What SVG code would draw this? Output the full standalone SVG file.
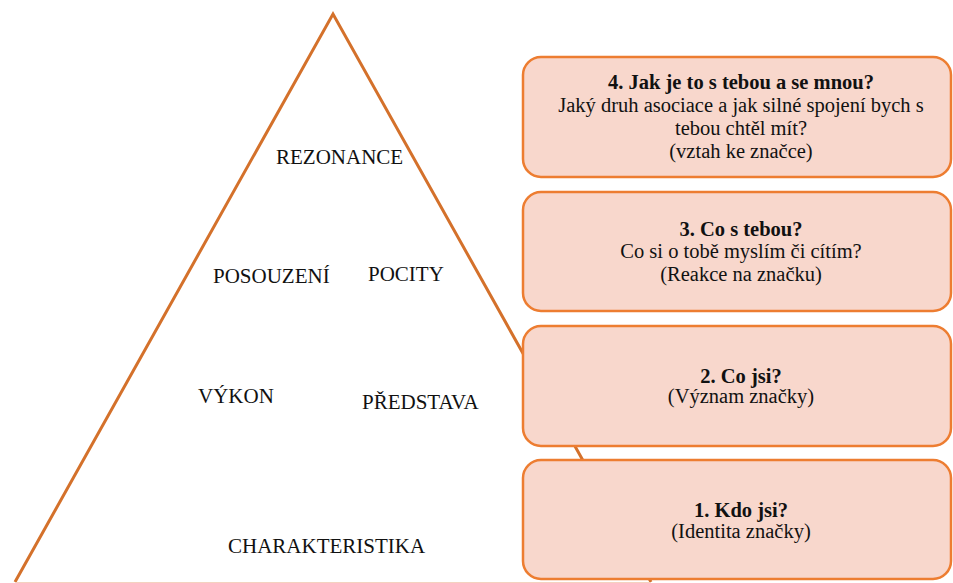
<svg xmlns="http://www.w3.org/2000/svg" width="953" height="583" viewBox="0 0 953 583">
<style>
  .tri { fill: none; stroke: #d4712b; stroke-width: 3; stroke-linejoin: miter; }
  .box { fill: #f8d7cc; stroke: #ed7d31; stroke-width: 2.5; }
  .lbl { font-family: 'Liberation Serif', 'DejaVu Serif', serif; font-size: 21px; fill: #111; }
  .bt { font-family: 'Liberation Serif', 'DejaVu Serif', serif; font-size: 20.5px; fill: #111; text-anchor: middle; }
  .b { font-weight: bold; }
</style>
<rect width="953" height="583" fill="#ffffff"/>
<g id="connectors">
  <path class="tri" d="M15,582 L333,14 L651,582"/>
  <line x1="15" y1="582.5" x2="651" y2="582.5" stroke="#f4d2c0" stroke-width="1"/>
</g>
<g id="pyramid-labels">
  <text class="lbl" x="276" y="164">REZONANCE</text>
  <text class="lbl" x="213" y="283">POSOUZENÍ</text>
  <text class="lbl" x="368" y="281">POCITY</text>
  <text class="lbl" x="198" y="403">VÝKON</text>
  <text class="lbl" x="362" y="409">PŘEDSTAVA</text>
  <text class="lbl" x="228" y="553">CHARAKTERISTIKA</text>
</g>
<g id="box4">
  <rect class="box" x="523" y="57" width="428" height="120" rx="18"/>
  <text class="bt b" x="741" y="89">4. Jak je to s tebou a se mnou?</text>
  <text class="bt" x="741" y="112">Jaký druh asociace a jak silné spojení bych s</text>
  <text class="bt" x="741" y="135">tebou chtěl mít?</text>
  <text class="bt" x="741" y="158">(vztah ke značce)</text>
</g>
<g id="box3">
  <rect class="box" x="523" y="192" width="428" height="119" rx="18"/>
  <text class="bt b" x="741" y="236">3. Co s tebou?</text>
  <text class="bt" x="741" y="258">Co si o tobě myslím či cítím?</text>
  <text class="bt" x="741" y="281">(Reakce na značku)</text>
</g>
<g id="box2">
  <rect class="box" x="523" y="326" width="428" height="120" rx="18"/>
  <text class="bt b" x="741" y="383">2. Co jsi?</text>
  <text class="bt" x="741" y="403">(Význam značky)</text>
</g>
<g id="box1">
  <rect class="box" x="523" y="460" width="428" height="119" rx="18"/>
  <text class="bt b" x="741" y="517">1. Kdo jsi?</text>
  <text class="bt" x="741" y="538">(Identita značky)</text>
</g>
</svg>
